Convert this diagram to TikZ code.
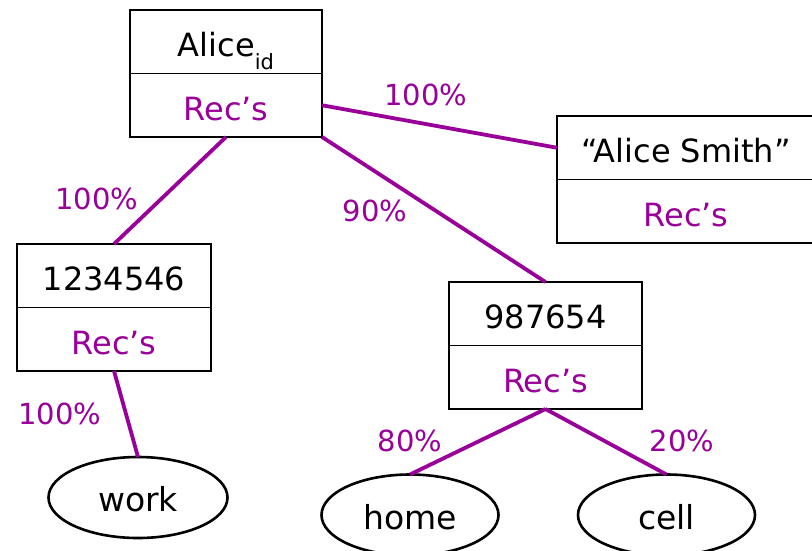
\documentclass[tikz,border=0pt]{standalone}
\usepackage{fontspec}
\setmainfont{DejaVu Sans}
\usetikzlibrary{shapes.geometric}
\definecolor{recp}{RGB}{153,0,153}
\begin{document}
\begin{tikzpicture}[x=1pt,y=-1pt,
  cell/.style={draw=black, line width=1.5pt, minimum height=63.5pt, inner sep=0pt, outer sep=0pt,
    text height=30pt, text depth=0pt, font=\fontsize{32}{38}\selectfont, anchor=north west},
  rec/.style={cell, text=recp},
  link/.style={draw=recp, line width=3.8pt},
  pct/.style={text=recp, font=\fontsize{29}{34}\selectfont, anchor=base, inner sep=0pt},
  oval/.style={ellipse, draw=black, line width=2.6pt, minimum width=177pt, minimum height=81pt,
    inner sep=0pt, outer sep=0pt, text height=28pt, text depth=0pt, font=\fontsize{33}{38}\selectfont}]
\useasboundingbox (0,0) rectangle (812,550);
% connectors (drawn under the boxes)
\coordinate (dummy) at (0,0);
% boxes
\node[cell, minimum width=192pt] (aliceT) at (130,10) {Alice\raisebox{-13pt}{\fontsize{21}{24}\selectfont id}};
\node[rec, minimum width=192pt] (aliceB) at (aliceT.south west) {Rec’s};
\node[cell, minimum width=258pt] (smithT) at (557,116) {“Alice Smith”};
\node[rec, minimum width=258pt] (smithB) at (smithT.south west) {Rec’s};
\node[cell, minimum width=194pt] (num1T) at (17,244) {1234546};
\node[rec, minimum width=194pt] (num1B) at (num1T.south west) {Rec’s};
\node[cell, minimum width=193pt] (num2T) at (449,282) {987654};
\node[rec, minimum width=193pt] (num2B) at (num2T.south west) {Rec’s};
% ellipses
\node[oval, minimum width=179pt] (work) at (138,497.5) {work};
\node[oval] (home) at (410,515) {home};
\node[oval] (cell) at (666.5,515) {cell};
% connectors
\draw[link] (aliceB.east) -- (smithT.west);
\draw[link] (aliceB.south) -- (num1T.north);
\draw[link] (aliceB.south east) -- (num2T.north);
\draw[link] (num1B.south) -- (work.north);
\draw[link] (num2B.south) -- (home.north);
\draw[link] (num2B.south) -- (cell.north);
% labels
\node[pct] (p1) at (426,105) {100\%};
\node[pct] (p2) at (97,209) {100\%};
\node[pct] (p3) at (375,221) {90\%};
\node[pct] (p4) at (60,424) {100\%};
\node[pct] (p5) at (410,451) {80\%};
\node[pct] (p6) at (682,451) {20\%};
\end{tikzpicture}
\end{document}
